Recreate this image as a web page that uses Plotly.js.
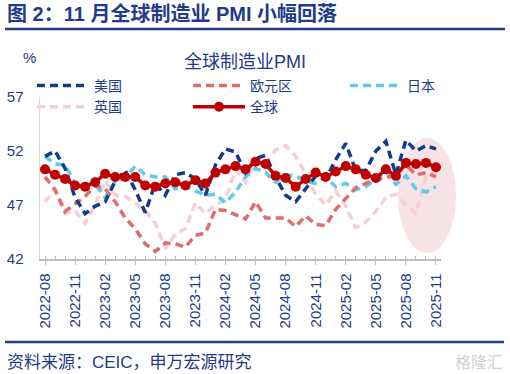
<!DOCTYPE html>
<html>
<head>
<meta charset="utf-8">
<script src="https://cdn.plot.ly/plotly-3.0.1.min.js"></script>
<style>html,body{margin:0;padding:0;background:#fff;}#chart{width:510px;height:374px;}</style>
</head>
<body>
<div id="chart"></div>
<script>
const months = ["2022-08","2022-09","2022-10","2022-11","2022-12",
"2023-01","2023-02","2023-03","2023-04","2023-05","2023-06","2023-07","2023-08","2023-09","2023-10","2023-11","2023-12",
"2024-01","2024-02","2024-03","2024-04","2024-05","2024-06","2024-07","2024-08","2024-09","2024-10","2024-11","2024-12",
"2025-01","2025-02","2025-03","2025-04","2025-05","2025-06","2025-07","2025-08","2025-09","2025-10","2025-11"];
const us = [51.5,52.0,50.4,47.7,46.2,46.9,47.3,49.2,50.2,48.4,46.3,49.0,47.9,49.8,50.0,49.4,47.9,50.7,52.2,51.9,50.0,51.3,51.6,49.6,47.9,47.3,48.5,49.7,49.4,51.2,52.7,50.2,50.2,52.0,52.9,49.8,53.0,52.0,52.5,52.2];
const euro = [49.6,48.4,46.4,47.1,47.8,48.8,48.5,47.3,45.8,44.8,43.4,42.7,43.5,43.4,43.1,44.2,44.4,46.6,46.5,46.1,45.7,47.3,45.8,45.8,45.8,45.0,46.0,45.2,45.1,46.6,47.6,48.6,49.0,49.4,49.5,49.8,50.7,49.8,50.0,49.6];
const japan = [51.5,50.8,50.7,49.0,48.9,48.9,47.7,49.2,49.5,50.6,49.8,49.6,49.6,48.5,48.7,48.3,47.9,48.0,47.2,48.2,49.6,50.4,50.0,49.1,49.8,49.7,49.2,49.0,49.6,48.7,49.0,48.4,48.7,49.4,50.1,48.9,49.7,48.5,48.2,48.7];
const uk = [47.3,48.4,46.2,46.5,45.3,47.0,49.3,47.9,47.8,47.1,46.5,45.3,43.0,44.3,44.8,47.2,46.2,47.0,47.5,50.3,49.1,51.2,50.9,52.1,52.5,51.5,49.9,48.0,47.0,48.3,46.9,44.9,45.4,46.4,47.7,48.0,47.0,46.2,49.7,50.2];
const world = [50.3,49.8,49.4,48.8,48.7,49.1,49.9,49.6,49.6,49.6,48.8,48.7,49.0,49.1,48.8,49.3,49.0,50.0,50.3,50.6,50.3,51.0,50.8,49.7,49.5,48.7,49.4,50.0,49.6,50.1,50.6,50.3,49.8,49.5,50.3,49.7,50.9,50.8,50.9,50.5];
const yTicks = [42,47,52,57];

const xi = months.map((m,i)=>i);
const tickIdx = xi.filter(i=>i%3===0);
const tickTxt = tickIdx.map(i=>months[i]);

const NAVY = '#1f3b8a';
const FONT = '"Liberation Sans", Arial, "Noto Sans CJK SC", sans-serif';
const DASH = '8px,5px';

function dashed(name, y, color, legend, rank){
  return {x: xi, y: y, name: name, type:'scatter', mode:'lines',
    line:{color:color, width:3.5, dash:DASH}, legend:legend, legendrank:rank, hoverinfo:'skip'};
}
const traces = [
  dashed('英国', uk, '#f6cfd2', 'legend', 2),
  dashed('日本', japan, '#5fcbed', 'legend3', 1),
  dashed('欧元区', euro, '#e06c6c', 'legend2', 1),
  dashed('美国', us, '#103c8c', 'legend', 1),
  {x: xi, y: world, name:'全球', type:'scatter', mode:'lines+markers',
   line:{color:'#c00000', width:3.5}, marker:{color:'#c00000', size:10},
   legend:'legend2', legendrank:2, hoverinfo:'skip'}
];

const px = p => (p-40)/401;
const py = p => (259-p)/162;
const legBase = {orientation:'v', yanchor:'top', y:py(70), xanchor:'left',
  font:{family:FONT, size:14, color:NAVY}, bgcolor:'rgba(0,0,0,0)', itemwidth:52, tracegroupgap:0};

const layout = {
  width:510, height:374,
  margin:{l:40, r:69, t:97, b:115, pad:0},
  paper_bgcolor:'#fff', plot_bgcolor:'rgba(0,0,0,0)',
  font:{family:FONT, color:NAVY},
  showlegend:true,
  legend: Object.assign({}, legBase, {x:px(32)}),
  legend2: Object.assign({}, legBase, {x:px(188)}),
  legend3: Object.assign({}, legBase, {x:px(345)}),
  xaxis:{range:[-0.5,39.5], tickvals:tickIdx, ticktext:tickTxt, tickangle:-90,
    showgrid:false, zeroline:false, showline:true, linecolor:'#bfbfbf', linewidth:1.5,
    ticks:'outside', ticklen:4, tickcolor:'#bfbfbf', tickwidth:1,
    minor:{dtick:1, tick0:0, ticks:'inside', ticklen:3, tickcolor:'#bfbfbf', showgrid:false},
    tickfont:{family:FONT, size:15, color:NAVY}, ticklabelstandoff:3, fixedrange:true},
  yaxis:{range:[42,57], tickvals:yTicks, showgrid:false, zeroline:false,
    showline:true, linecolor:'#d9d9d9', linewidth:1.5, ticks:'',
    tickfont:{family:FONT, size:15, color:NAVY}, ticklabelstandoff:12, fixedrange:true},
  shapes:[
    {type:'circle', xref:'paper', yref:'paper', x0:px(398), x1:px(456), y0:py(253), y1:py(138),
     fillcolor:'rgba(240,198,203,0.5)', line:{width:0}, layer:'below'},
    {type:'line', xref:'paper', yref:'paper', x0:px(5), x1:px(505), y0:py(29), y1:py(29),
     line:{color:NAVY, width:2.5}},
    {type:'line', xref:'paper', yref:'paper', x0:px(5), x1:px(504), y0:py(342), y1:py(342),
     line:{color:NAVY, width:2.5}}
  ],
  annotations:[
    {xref:'paper', yref:'paper', x:px(5), y:py(14), xanchor:'left', yanchor:'middle', showarrow:false,
     text:'<b>图 2：11 月全球制造业 PMI 小幅回落</b>', font:{family:FONT, size:20, color:NAVY}},
    {xref:'paper', yref:'paper', x:px(245), y:py(62), xanchor:'center', yanchor:'middle', showarrow:false,
     text:'全球制造业PMI', font:{family:FONT, size:18, color:NAVY}},
    {xref:'paper', yref:'paper', x:px(29), y:py(57), xanchor:'center', yanchor:'middle', showarrow:false,
     text:'%', font:{family:FONT, size:15, color:NAVY}},
    {xref:'paper', yref:'paper', x:px(5), y:py(362), xanchor:'left', yanchor:'middle', showarrow:false,
     text:'资料来源：CEIC，申万宏源研究', font:{family:FONT, size:17, color:NAVY}},
    {xref:'paper', yref:'paper', x:px(505), y:py(362), xanchor:'right', yanchor:'middle', showarrow:false,
     text:'格隆汇', font:{family:FONT, size:16, color:'#d0d0d0'}}
  ]
};

Plotly.newPlot('chart', traces, layout, {displayModeBar:false, staticPlot:true});
</script>
</body>
</html>
